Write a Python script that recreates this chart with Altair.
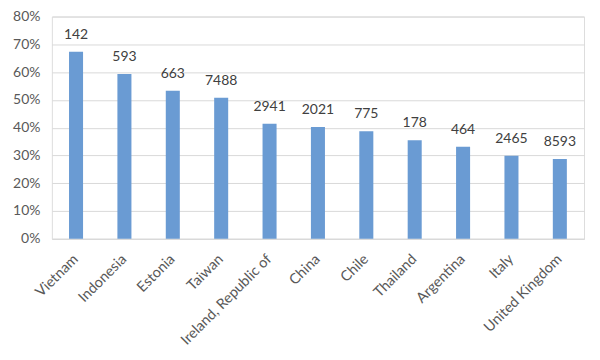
import altair as alt
import pandas as pd

countries = ["Vietnam", "Indonesia", "Estonia", "Taiwan", "Ireland, Republic of",
             "China", "Chile", "Thailand", "Argentina", "Italy", "United Kingdom"]
shares = [0.673, 0.593, 0.533, 0.508, 0.414, 0.402, 0.387, 0.355, 0.331, 0.299, 0.287]
counts = ["142", "593", "663", "7488", "2941", "2021", "775", "178", "464", "2465", "8593"]
tick_values = [0, 0.1, 0.2, 0.3, 0.4, 0.5, 0.6, 0.7, 0.8]

df = pd.DataFrame({"country": countries, "share": shares, "count": counts})

FONT = "Lato"

x = alt.X("country:N", sort=countries, title=None,
          scale=alt.Scale(paddingInner=0.71, paddingOuter=0.355),
          axis=alt.Axis(labelAngle=-45, labelAlign="right", labelBaseline="middle",
                        labelFont=FONT, labelFontSize=14.5, labelColor="#595959",
                        labelPadding=18, ticks=False, domain=True,
                        domainColor="#d9d9d9", labelOverlap=False, labelLimit=300))
y = alt.Y("share:Q", title=None,
          scale=alt.Scale(domain=[0, 0.8], nice=False),
          axis=alt.Axis(format=".0%", values=tick_values, tickCount=9,
                        labelFont=FONT, labelFontSize=14, labelColor="#595959",
                        labelPadding=12, ticks=False, domain=False,
                        labelOverlap=False, labelFlush=False,
                        gridColor="#d9d9d9", gridWidth=1))

base = alt.Chart(df).encode(x=x, y=y)
bars = base.mark_bar(color="#6A9BD3")
text = base.mark_text(baseline="bottom", dy=-10, font=FONT, fontSize=14,
                      color="#404040").encode(text="count:N")

chart = (bars + text).properties(
    width=534, height=223,
    autosize=alt.AutoSizeParams(type="none"),
    padding={"left": 44, "top": 8, "right": 8, "bottom": 110},
).configure_view(stroke=None).configure(background="white")

chart.save("out.html", embed_options={"renderer": "svg", "actions": False})
